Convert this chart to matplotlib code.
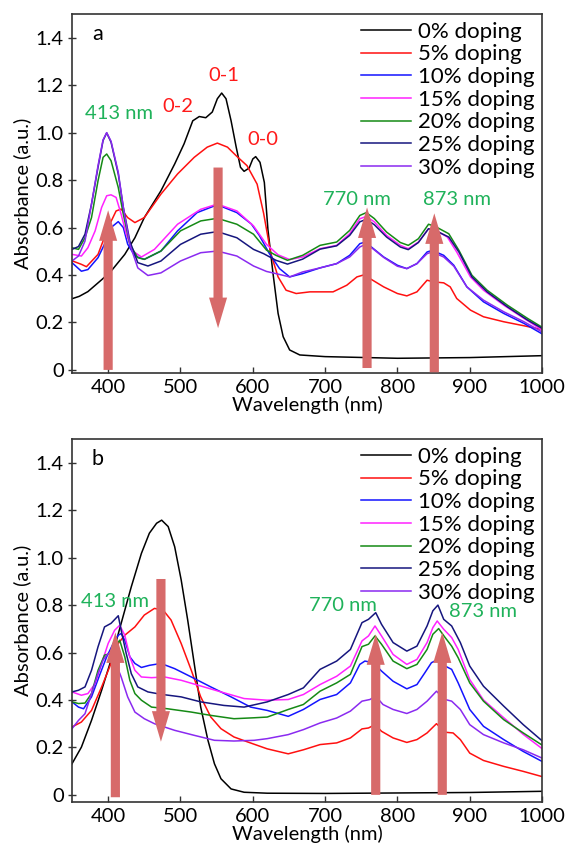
import matplotlib
matplotlib.use("Agg")
import matplotlib.pyplot as plt
from matplotlib.ticker import FuncFormatter, MultipleLocator

plt.rcParams['font.family'] = ['Lato', 'DejaVu Sans']

# ---- data: (wavelength nm, absorbance) ----
LABELS = ['0% doping', '5% doping', '10% doping', '15% doping',
          '20% doping', '25% doping', '30% doping']
COLORS = ['#000000', '#ff1010', '#1414ff', '#ff22ff', '#158a15', '#16167e', '#8a2af0']

# panel a
A0 = [(350, 0.30), (360, 0.31), (372, 0.33), (391, 0.38), (404, 0.416), (423, 0.487),
      (437, 0.557), (450, 0.642), (473, 0.755), (492, 0.868), (505, 0.953), (517, 1.05),
      (526, 1.068), (535, 1.063), (544, 1.087), (551, 1.143), (557, 1.167), (563, 1.143),
      (570, 1.05), (577, 0.94), (583, 0.854), (588, 0.837), (595, 0.851), (600, 0.889),
      (604, 0.899), (610, 0.875), (616, 0.79), (621, 0.59), (628, 0.406), (635, 0.238),
      (642, 0.14), (651, 0.084), (665, 0.063), (700, 0.056), (800, 0.049), (900, 0.052),
      (1000, 0.06)]
A5 = [(350, 0.46), (363, 0.445), (370, 0.435), (386, 0.487), (400, 0.60), (411, 0.67),
      (418, 0.678), (427, 0.642), (437, 0.621), (450, 0.642), (473, 0.741), (496, 0.826),
      (519, 0.896), (537, 0.939), (551, 0.956), (565, 0.939), (578, 0.90), (592, 0.861),
      (606, 0.783), (615, 0.66), (625, 0.49), (635, 0.392), (646, 0.336), (660, 0.322),
      (679, 0.329), (711, 0.329), (730, 0.357), (744, 0.392), (753, 0.40), (762, 0.385),
      (781, 0.35), (800, 0.322), (813, 0.312), (827, 0.329), (841, 0.378), (850, 0.371),
      (864, 0.367), (873, 0.35), (882, 0.301), (901, 0.252), (919, 0.224), (947, 0.203),
      (975, 0.186), (1000, 0.17)]
A10 = [(350, 0.452), (363, 0.416), (372, 0.423), (386, 0.473), (395, 0.53), (404, 0.60),
       (414, 0.625), (421, 0.60), (427, 0.53), (437, 0.48), (450, 0.466), (473, 0.501),
       (496, 0.586), (523, 0.663), (551, 0.696), (578, 0.663), (598, 0.615), (609, 0.567),
       (623, 0.49), (637, 0.427), (651, 0.392), (669, 0.406), (693, 0.43), (716, 0.448),
       (734, 0.483), (748, 0.532), (755, 0.539), (764, 0.518), (781, 0.476), (800, 0.441),
       (813, 0.427), (827, 0.448), (841, 0.497), (848, 0.504), (864, 0.483), (878, 0.441),
       (896, 0.35), (919, 0.287), (947, 0.238), (975, 0.196), (1000, 0.152)]
A15 = [(350, 0.487), (363, 0.48), (372, 0.515), (382, 0.586), (391, 0.685), (398, 0.734),
       (404, 0.738), (411, 0.727), (418, 0.656), (425, 0.572), (434, 0.501), (446, 0.476),
       (464, 0.508), (496, 0.614), (528, 0.677), (551, 0.699), (578, 0.67), (601, 0.607),
       (619, 0.529), (635, 0.485), (651, 0.465), (669, 0.476), (693, 0.511), (716, 0.525),
       (734, 0.574), (748, 0.637), (757, 0.647), (768, 0.624), (785, 0.567), (804, 0.525),
       (815, 0.511), (829, 0.539), (843, 0.595), (852, 0.591), (869, 0.56), (882, 0.497),
       (901, 0.392), (919, 0.336), (947, 0.273), (975, 0.217), (1000, 0.168)]
A20 = [(350, 0.515), (359, 0.508), (368, 0.557), (377, 0.642), (386, 0.797), (393, 0.896),
       (398, 0.91), (404, 0.882), (414, 0.769), (421, 0.656), (430, 0.529), (441, 0.473),
       (450, 0.466), (473, 0.501), (500, 0.586), (528, 0.628), (551, 0.639), (578, 0.614),
       (601, 0.572), (619, 0.505), (632, 0.483), (648, 0.462), (669, 0.483), (693, 0.525),
       (716, 0.539), (734, 0.588), (748, 0.651), (757, 0.663), (768, 0.638), (785, 0.581),
       (804, 0.537), (815, 0.525), (829, 0.553), (843, 0.614), (852, 0.605), (871, 0.574),
       (885, 0.504), (903, 0.399), (924, 0.336), (952, 0.273), (980, 0.217), (1000, 0.18)]
A25 = [(350, 0.508), (359, 0.52), (368, 0.572), (377, 0.699), (386, 0.854), (393, 0.967),
       (398, 0.999), (404, 0.96), (414, 0.826), (421, 0.685), (430, 0.543), (441, 0.452),
       (455, 0.438), (473, 0.459), (500, 0.529), (528, 0.572), (551, 0.583), (578, 0.557),
       (601, 0.508), (615, 0.49), (632, 0.462), (648, 0.446), (669, 0.467), (693, 0.509),
       (716, 0.523), (734, 0.567), (748, 0.624), (757, 0.635), (768, 0.612), (785, 0.56),
       (804, 0.518), (815, 0.507), (829, 0.537), (843, 0.595), (852, 0.588), (871, 0.56),
       (885, 0.497), (903, 0.392), (924, 0.329), (952, 0.266), (980, 0.21), (1000, 0.175)]
A30 = [(350, 0.459), (359, 0.48), (368, 0.543), (377, 0.699), (386, 0.861), (393, 0.97),
       (398, 1.0), (404, 0.964), (414, 0.833), (421, 0.685), (430, 0.529), (441, 0.43),
       (455, 0.398), (473, 0.409), (500, 0.459), (528, 0.494), (551, 0.501), (578, 0.48),
       (601, 0.438), (619, 0.415), (632, 0.406), (651, 0.392), (669, 0.413), (693, 0.43),
       (716, 0.448), (734, 0.476), (748, 0.518), (755, 0.528), (766, 0.511), (781, 0.474),
       (800, 0.437), (813, 0.427), (827, 0.448), (841, 0.49), (848, 0.497), (864, 0.476),
       (878, 0.437), (896, 0.35), (919, 0.294), (947, 0.245), (975, 0.203), (1000, 0.16)]

# panel b
B0 = [(350, 0.131), (363, 0.201), (377, 0.314), (391, 0.441), (404, 0.568), (418, 0.723),
      (432, 0.877), (446, 1.018), (457, 1.103), (467, 1.145), (474, 1.158), (483, 1.131),
      (492, 1.046), (501, 0.906), (510, 0.737), (519, 0.554), (528, 0.37), (538, 0.23),
      (547, 0.131), (556, 0.068), (570, 0.025), (588, 0.011), (620, 0.007), (700, 0.006),
      (800, 0.008), (900, 0.01), (1000, 0.015)]
B5 = [(350, 0.286), (363, 0.307), (377, 0.356), (391, 0.455), (404, 0.554), (414, 0.638),
      (423, 0.673), (437, 0.708), (450, 0.758), (464, 0.786), (476, 0.779), (487, 0.737),
      (501, 0.638), (515, 0.525), (528, 0.413), (542, 0.328), (556, 0.279), (574, 0.244),
      (593, 0.223), (620, 0.194), (649, 0.173), (670, 0.19), (693, 0.212), (716, 0.219),
      (735, 0.24), (751, 0.278), (760, 0.282), (769, 0.296), (778, 0.268), (794, 0.24),
      (813, 0.221), (827, 0.233), (841, 0.261), (854, 0.30), (866, 0.264), (877, 0.261),
      (887, 0.233), (900, 0.176), (919, 0.145), (947, 0.12), (974, 0.099), (1000, 0.077)]
B10 = [(350, 0.392), (359, 0.37), (366, 0.363), (377, 0.413), (389, 0.511), (398, 0.582),
       (407, 0.638), (414, 0.673), (418, 0.68), (423, 0.652), (430, 0.582), (437, 0.554),
       (446, 0.537), (457, 0.546), (473, 0.554), (492, 0.532), (515, 0.497), (542, 0.455),
       (570, 0.413), (597, 0.37), (620, 0.356), (649, 0.331), (670, 0.36), (693, 0.402),
       (716, 0.423), (735, 0.472), (748, 0.55), (755, 0.564), (762, 0.56), (769, 0.55),
       (778, 0.522), (794, 0.479), (813, 0.447), (827, 0.465), (838, 0.515), (847, 0.557),
       (854, 0.568), (866, 0.543), (875, 0.529), (884, 0.472), (900, 0.36), (919, 0.289),
       (947, 0.233), (974, 0.183), (1000, 0.141)]
B15 = [(350, 0.434), (363, 0.42), (372, 0.427), (382, 0.469), (391, 0.554), (400, 0.638),
       (409, 0.694), (416, 0.715), (423, 0.673), (430, 0.582), (437, 0.525), (446, 0.497),
       (460, 0.494), (478, 0.497), (501, 0.483), (528, 0.459), (556, 0.434), (588, 0.406),
       (620, 0.399), (649, 0.402), (670, 0.423), (693, 0.465), (716, 0.50), (735, 0.543),
       (751, 0.649), (760, 0.67), (769, 0.712), (778, 0.67), (794, 0.592), (813, 0.55),
       (827, 0.571), (841, 0.642), (849, 0.705), (855, 0.733), (864, 0.698), (875, 0.663),
       (884, 0.613), (900, 0.486), (919, 0.40), (947, 0.325), (974, 0.255), (1000, 0.195)]
B20 = [(350, 0.392), (359, 0.385), (368, 0.387), (377, 0.427), (386, 0.525), (395, 0.589),
       (404, 0.596), (411, 0.631), (416, 0.652), (423, 0.582), (430, 0.483), (437, 0.427),
       (446, 0.399), (460, 0.37), (482, 0.363), (515, 0.349), (542, 0.335), (574, 0.321),
       (602, 0.325), (620, 0.328), (649, 0.36), (670, 0.381), (693, 0.437), (716, 0.472),
       (735, 0.508), (751, 0.625), (760, 0.635), (769, 0.67), (778, 0.635), (794, 0.564),
       (813, 0.532), (827, 0.55), (841, 0.613), (849, 0.677), (857, 0.701), (866, 0.663),
       (875, 0.627), (884, 0.578), (900, 0.472), (919, 0.395), (947, 0.317), (974, 0.261),
       (1000, 0.21)]
B25 = [(350, 0.434), (359, 0.441), (368, 0.455), (377, 0.525), (386, 0.624), (395, 0.708),
       (404, 0.723), (414, 0.755), (418, 0.694), (425, 0.596), (432, 0.511), (441, 0.455),
       (455, 0.434), (473, 0.424), (501, 0.413), (528, 0.392), (560, 0.377), (588, 0.37),
       (620, 0.392), (649, 0.423), (670, 0.451), (693, 0.529), (716, 0.564), (735, 0.613),
       (751, 0.726), (760, 0.74), (770, 0.768), (778, 0.719), (794, 0.642), (813, 0.606),
       (827, 0.627), (841, 0.712), (849, 0.776), (856, 0.80), (864, 0.74), (875, 0.712),
       (887, 0.642), (900, 0.543), (919, 0.458), (947, 0.374), (974, 0.296), (1000, 0.228)]
B30 = [(350, 0.279), (359, 0.314), (368, 0.342), (377, 0.427), (386, 0.511), (393, 0.568),
       (400, 0.596), (409, 0.568), (418, 0.497), (427, 0.413), (437, 0.349), (450, 0.321),
       (464, 0.30), (492, 0.272), (519, 0.251), (547, 0.23), (574, 0.227), (602, 0.23),
       (620, 0.237), (649, 0.254), (670, 0.275), (693, 0.303), (716, 0.324), (735, 0.353),
       (751, 0.395), (762, 0.402), (770, 0.416), (780, 0.381), (794, 0.36), (813, 0.343),
       (827, 0.36), (841, 0.395), (854, 0.437), (866, 0.402), (875, 0.395), (887, 0.36),
       (900, 0.296), (919, 0.254), (947, 0.219), (974, 0.19), (1000, 0.155)]

SERIES_A = [A0, A5, A10, A15, A20, A25, A30]
SERIES_B = [B0, B5, B10, B15, B20, B25, B30]

# arrows: (x, y_tail, y_tip)
ARROWS_A = [(400, 0.0, 0.673), (552, 0.853, 0.176), (758, 0.008, 0.685), (851, -0.01, 0.66)]
ARROWS_B = [(410, -0.01, 0.685), (473, 0.91, 0.224), (770, 0.0, 0.677), (862, 0.0, 0.685)]

# annotations: (x, y, text, colour key)
NOTES_A = [(415, 1.08, '413 nm', 'g'), (496, 1.11, '0-2', 'r'), (560, 1.24, '0-1', 'r'),
           (614, 0.97, '0-0', 'r'), (744, 0.72, '770 nm', 'g'), (882, 0.72, '873 nm', 'g')]
NOTES_B = [(410, 0.816, '413 nm', 'g'), (724, 0.80, '770 nm', 'g'), (918, 0.775, '873 nm', 'g')]

TXT_COL = {'g': '#1fb25a', 'r': '#ff1a1a'}
ARROW_COL = '#d76a6a'
SPINE_COL = '#333333'
FS = 14.5
LEG_FS = 16


def yfmt(v, pos):
    return '0' if abs(v) < 1e-9 else f'{v:.1f}'


def draw_panel(ax, series, arrows, notes, letter, ymin):
    for pts, lab, col in zip(series, LABELS, COLORS):
        xs = [p[0] for p in pts]
        ys = [p[1] for p in pts]
        ax.plot(xs, ys, color=col, lw=1.1, label=lab)

    for x, y0, y1 in arrows:
        ax.annotate('', xy=(x, y1), xytext=(x, y0),
                    arrowprops=dict(arrowstyle='simple,head_width=1.3,head_length=2.2,tail_width=0.66',
                                    color=ARROW_COL, mutation_scale=10,
                                    shrinkA=0, shrinkB=0, lw=0),
                    zorder=5)

    for x, y, t, c in notes:
        ax.text(x, y, t, color=TXT_COL[c], fontsize=FS, ha='center', va='center')

    ax.text(385, 1.415, letter, fontsize=FS + 1, ha='center', va='center')

    ax.set_xlim(350, 1000)
    ax.set_ylim(ymin, 1.5)
    ax.yaxis.set_major_locator(MultipleLocator(0.2))
    ax.yaxis.set_major_formatter(FuncFormatter(yfmt))
    ax.set_xticks([400, 500, 600, 700, 800, 900, 1000])
    ax.tick_params(axis='x', direction='in', length=4, width=1, colors=SPINE_COL,
                   labelcolor='black', labelsize=FS, pad=4)
    ax.tick_params(axis='y', direction='inout', length=6, width=1, colors=SPINE_COL,
                   labelcolor='black', labelsize=FS, pad=3)
    for s in ax.spines.values():
        s.set_color(SPINE_COL)
        s.set_linewidth(1.2)
    ax.set_xlabel('Wavelength (nm)', fontsize=FS, labelpad=0)
    ax.set_ylabel('Absorbance (a.u.)', fontsize=FS, labelpad=3)

    ax.legend(loc='upper right', bbox_to_anchor=(1.0, 1.0), frameon=False, fontsize=LEG_FS,
              handlelength=2.25, handletextpad=0.3, labelspacing=0.12,
              borderaxespad=0.15, borderpad=0.2)


fig = plt.figure(figsize=(5.65, 8.51), dpi=100)
ax_a = fig.add_axes([0.1274, 0.5617, 0.832, 0.4218])
ax_b = fig.add_axes([0.1274, 0.0576, 0.832, 0.4265])

draw_panel(ax_a, SERIES_A, ARROWS_A, NOTES_A, 'a', -0.013)
draw_panel(ax_b, SERIES_B, ARROWS_B, NOTES_B, 'b', -0.03)

fig.savefig('out.png', dpi=100)
